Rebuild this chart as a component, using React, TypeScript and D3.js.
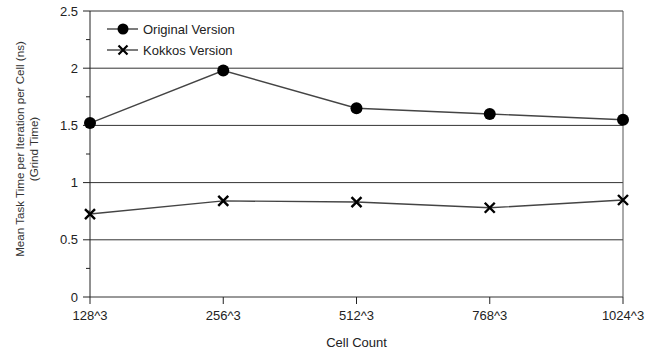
import React from "react";
import * as d3 from "d3";

const categories = ["128^3", "256^3", "512^3", "768^3", "1024^3"];
const originalValues = [1.52, 1.98, 1.65, 1.6, 1.55];
const kokkosValues = [0.725, 0.84, 0.83, 0.78, 0.848];
const yTicks = [0, 0.5, 1, 1.5, 2, 2.5];
const yMinorTicks = [0.25, 0.75, 1.25, 1.75, 2.25];

const W = 660;
const H = 352;
const margin = { top: 11, right: 37, bottom: 55, left: 90 };

export default function App() {
  const x = d3
    .scalePoint<string>()
    .domain(categories)
    .range([margin.left, W - margin.right]);
  const y = d3
    .scaleLinear()
    .domain([0, 2.5])
    .range([H - margin.bottom, margin.top]);

  const line = d3
    .line<number>()
    .x((_, i) => x(categories[i]) as number)
    .y((d) => y(d));

  const font = "'Liberation Sans', Arial, sans-serif";
  const x0 = margin.left;
  const x1 = W - margin.right;
  const yBottom = y(0);
  const cross = (cx: number, cy: number, s: number) =>
    `M${cx - s},${cy - s}L${cx + s},${cy + s}M${cx - s},${cy + s}L${cx + s},${cy - s}`;

  return (
    <svg
      width={W}
      height={H}
      style={{ position: "absolute", left: 0, top: 0, fontFamily: font }}
    >
      <rect width={W} height={H} fill="#fff" />
      {/* grid */}
      {yTicks.map((t) => (
        <line key={"g" + t} x1={x0} x2={x1} y1={y(t)} y2={y(t)} stroke="#333" strokeWidth={1} />
      ))}
      <line x1={x1} x2={x1} y1={y(2.5)} y2={yBottom} stroke="#555" strokeWidth={1} />
      {/* y axis */}
      <line x1={x0} x2={x0} y1={y(2.5)} y2={yBottom} stroke="#222" strokeWidth={1} />
      {yTicks.map((t) => (
        <g key={"yt" + t}>
          <line x1={x0 - 7} x2={x0} y1={y(t)} y2={y(t)} stroke="#222" />
          <text x={x0 - 12} y={y(t)} dy="0.35em" textAnchor="end" fontSize={13} fill="#222">
            {t}
          </text>
        </g>
      ))}
      {yMinorTicks.map((t) => (
        <line key={"ym" + t} x1={x0 - 4} x2={x0} y1={y(t)} y2={y(t)} stroke="#222" />
      ))}
      {/* x axis */}
      {categories.map((c) => (
        <g key={"xt" + c}>
          <line x1={x(c)} x2={x(c)} y1={yBottom} y2={yBottom + 7} stroke="#222" />
          <text x={x(c)} y={yBottom + 23} textAnchor="middle" fontSize={13} fill="#222">
            {c}
          </text>
        </g>
      ))}
      <text x={(x0 + x1) / 2} y={347} textAnchor="middle" fontSize={13} fill="#222">
        Cell Count
      </text>
      <text
        transform="translate(24,149) rotate(-90)"
        textAnchor="middle"
        fontSize={11.6}
        fill="#333"
      >
        Mean Task Time per Iteration per Cell (ns)
      </text>
      <text
        transform="translate(38,149) rotate(-90)"
        textAnchor="middle"
        fontSize={11.6}
        fill="#333"
      >
        (Grind Time)
      </text>
      {/* series */}
      <path d={line(originalValues) ?? ""} fill="none" stroke="#444" strokeWidth={1.4} />
      <path d={line(kokkosValues) ?? ""} fill="none" stroke="#444" strokeWidth={1.4} />
      {originalValues.map((v, i) => (
        <circle key={"o" + i} cx={x(categories[i])} cy={y(v)} r={6} fill="#000" />
      ))}
      {kokkosValues.map((v, i) => (
        <path key={"k" + i} d={cross(x(categories[i]) as number, y(v), 5)} stroke="#000" strokeWidth={2.4} />
      ))}
      {/* legend */}
      <g>
        <line x1={107} x2={138} y1={29} y2={29} stroke="#444" strokeWidth={1.4} />
        <circle cx={123} cy={29} r={5.5} fill="#000" />
        <text x={143} y={29} dy="0.35em" fontSize={13} fill="#222">Original Version</text>
        <line x1={107} x2={138} y1={50} y2={50} stroke="#444" strokeWidth={1.4} />
        <path d={cross(123, 50, 4.5)} stroke="#000" strokeWidth={2.2} />
        <text x={143} y={50} dy="0.35em" fontSize={13} fill="#222">Kokkos Version</text>
      </g>
    </svg>
  );
}
